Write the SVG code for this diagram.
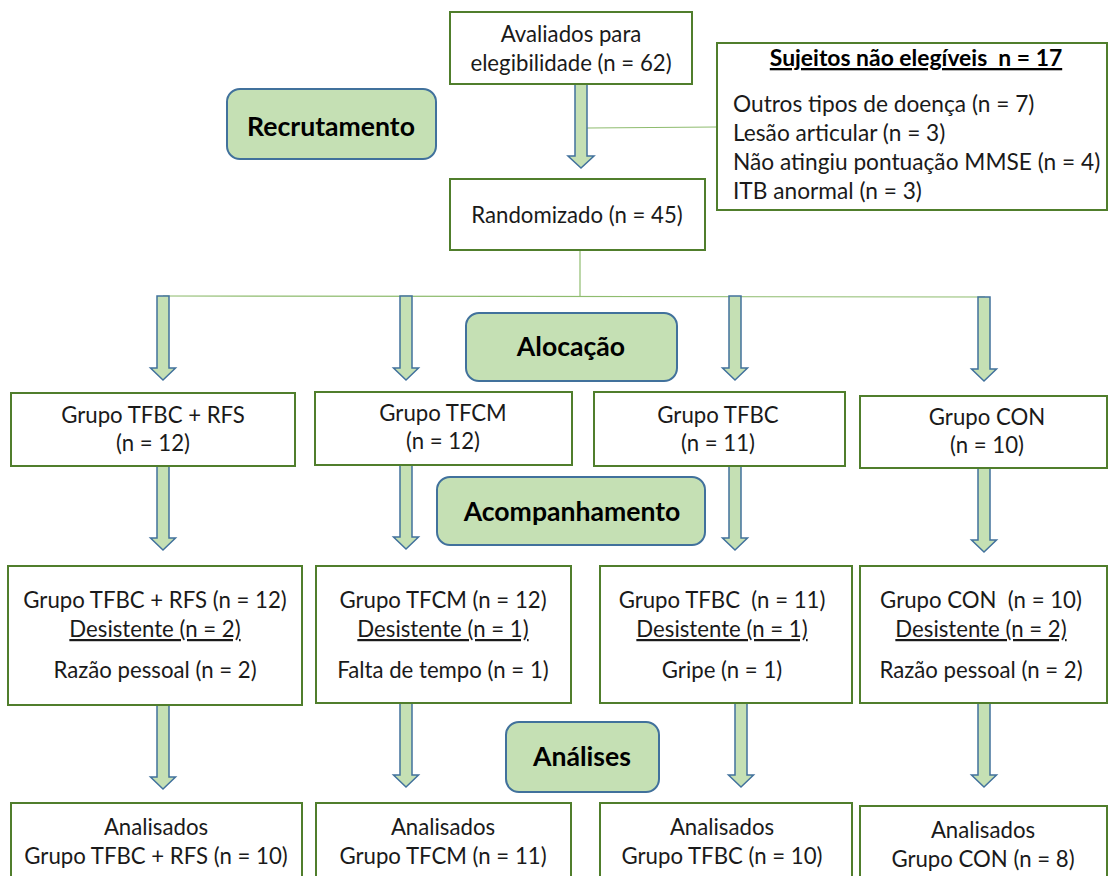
<svg xmlns="http://www.w3.org/2000/svg" width="1108" height="876" viewBox="0 0 1108 876">
  <defs>
    <style>
      .box { fill: #ffffff; stroke: #507e2c; stroke-width: 2; }
      .tag { fill: #c5e0b4; stroke: #41719c; stroke-width: 2; }
      .arrow { fill: #c5e0b4; stroke: #41719c; stroke-width: 1.5; stroke-linejoin: miter; }
      .link { fill: none; stroke: #8fbc6f; stroke-width: 1.2; }
      text { font-family: Lato, "Liberation Sans", sans-serif; font-size: 22.2px; fill: #1a1a1a; white-space: pre; }
      .c { text-anchor: middle; }
      .b { font-weight: bold; font-size: 26.6px; fill: #000; }
      .u { text-decoration: underline; text-decoration-skip-ink: none; }
      .list { font-size: 22.7px; }
    </style>
    <!-- block arrow pointing down, origin at shaft top centre, length 84 -->
    <path id="dn84" d="M-6,0 H6 V72 H12.5 L0,84 L-12.5,72 H-6 Z"/>
  </defs>

  <!-- connector lines -->
  <g id="connectors">
    <path class="link" d="M587,128 L717,127"/>
    <path class="link" d="M580,250 V296"/>
    <path class="link" d="M163,296 L985,297"/>
    <!-- recruitment arrow -->
    <path class="arrow" d="M575,84 H587 V156 H594 L581,168 L568,156 H575 Z"/>
    <!-- allocation arrows -->
    <use href="#dn84" class="arrow" x="163" y="296"/>
    <use href="#dn84" class="arrow" x="406" y="296"/>
    <use href="#dn84" class="arrow" x="735" y="296"/>
    <use href="#dn84" class="arrow" x="984" y="297"/>
    <!-- follow-up arrows -->
    <use href="#dn84" class="arrow" x="163" y="466"/>
    <use href="#dn84" class="arrow" x="406" y="465"/>
    <use href="#dn84" class="arrow" x="735" y="466"/>
    <use href="#dn84" class="arrow" x="984" y="468"/>
    <!-- analysis arrows -->
    <use href="#dn84" class="arrow" x="163" y="705"/>
    <use href="#dn84" class="arrow" x="406" y="703"/>
    <use href="#dn84" class="arrow" x="741" y="703"/>
    <use href="#dn84" class="arrow" x="984" y="703"/>
  </g>

  <!-- stage labels -->
  <g id="tag-recrutamento">
    <rect class="tag" x="227" y="89" width="209" height="70" rx="13"/>
    <text class="c b" x="331" y="136">Recrutamento</text>
  </g>
  <g id="tag-alocacao">
    <rect class="tag" x="466" y="313" width="211" height="68" rx="13"/>
    <text class="c b" x="571" y="356">Alocação</text>
  </g>
  <g id="tag-acompanhamento">
    <rect class="tag" x="437" y="477" width="268" height="68" rx="13"/>
    <text class="c b" x="572" y="521">Acompanhamento</text>
  </g>
  <g id="tag-analises">
    <rect class="tag" x="506" y="722" width="153" height="70" rx="13"/>
    <text class="c b" x="582" y="766">Análises</text>
  </g>

  <!-- enrolment -->
  <g id="avaliados">
    <rect class="box" x="450" y="12" width="242" height="72"/>
    <text class="c" x="571" y="42">Avaliados para</text>
    <text class="c" x="571" y="71">elegibilidade (n = 62)</text>
  </g>
  <g id="nao-elegiveis">
    <rect class="box" x="717" y="43" width="390" height="167"/>
    <text class="c b u" x="916" y="66" style="font-size:22.9px">Sujeitos não elegíveis  n = 17</text>
    <text class="list" x="733" y="112">Outros tipos de doença (n = 7)</text>
    <text class="list" x="733" y="141">Lesão articular (n = 3)</text>
    <text class="list" x="733" y="170">Não atingiu pontuação MMSE (n = 4)</text>
    <text class="list" x="733" y="199">ITB anormal (n = 3)</text>
  </g>
  <g id="randomizado">
    <rect class="box" x="450" y="179" width="255" height="71"/>
    <text class="c" x="577" y="223">Randomizado (n = 45)</text>
  </g>

  <!-- allocation -->
  <g id="aloc-tfbc-rfs">
    <rect class="box" x="11" y="393" width="284" height="73"/>
    <text class="c" x="153" y="423">Grupo TFBC + RFS</text>
    <text class="c" x="153" y="451">(n = 12)</text>
  </g>
  <g id="aloc-tfcm">
    <rect class="box" x="315" y="392" width="257" height="73"/>
    <text class="c" x="443" y="421">Grupo TFCM</text>
    <text class="c" x="443" y="449">(n = 12)</text>
  </g>
  <g id="aloc-tfbc">
    <rect class="box" x="594" y="392" width="251" height="74"/>
    <text class="c" x="718" y="423">Grupo TFBC</text>
    <text class="c" x="718" y="451">(n = 11)</text>
  </g>
  <g id="aloc-con">
    <rect class="box" x="860" y="396" width="247" height="72"/>
    <text class="c" x="987" y="425">Grupo CON</text>
    <text class="c" x="987" y="453">(n = 10)</text>
  </g>

  <!-- follow-up -->
  <g id="seg-tfbc-rfs">
    <rect class="box" x="8" y="566" width="294" height="139"/>
    <text class="c" x="155" y="608">Grupo TFBC + RFS (n = 12)</text>
    <text class="c u" x="155" y="637">Desistente (n = 2)</text>
    <text class="c" x="155" y="678">Razão pessoal (n = 2)</text>
  </g>
  <g id="seg-tfcm">
    <rect class="box" x="316" y="566" width="255" height="137"/>
    <text class="c" x="443" y="608">Grupo TFCM (n = 12)</text>
    <text class="c u" x="443" y="637">Desistente (n = 1)</text>
    <text class="c" x="443" y="678">Falta de tempo (n = 1)</text>
  </g>
  <g id="seg-tfbc">
    <rect class="box" x="600" y="566" width="252" height="137"/>
    <text class="c" x="722" y="608">Grupo TFBC  (n = 11)</text>
    <text class="c u" x="722" y="637">Desistente (n = 1)</text>
    <text class="c" x="722" y="678">Gripe (n = 1)</text>
  </g>
  <g id="seg-con">
    <rect class="box" x="860" y="566" width="247" height="137"/>
    <text class="c" x="981" y="608">Grupo CON  (n = 10)</text>
    <text class="c u" x="981" y="637">Desistente (n = 2)</text>
    <text class="c" x="981" y="678">Razão pessoal (n = 2)</text>
  </g>

  <!-- analysis -->
  <g id="ana-tfbc-rfs">
    <rect class="box" x="11" y="803" width="291" height="80"/>
    <text class="c" x="156" y="835">Analisados</text>
    <text class="c" x="156" y="864">Grupo TFBC + RFS (n = 10)</text>
  </g>
  <g id="ana-tfcm">
    <rect class="box" x="316" y="803" width="255" height="80"/>
    <text class="c" x="443" y="835">Analisados</text>
    <text class="c" x="443" y="864">Grupo TFCM (n = 11)</text>
  </g>
  <g id="ana-tfbc">
    <rect class="box" x="600" y="803" width="252" height="80"/>
    <text class="c" x="722" y="835">Analisados</text>
    <text class="c" x="722" y="864">Grupo TFBC (n = 10)</text>
  </g>
  <g id="ana-con">
    <rect class="box" x="860" y="806" width="247" height="80"/>
    <text class="c" x="983" y="838">Analisados</text>
    <text class="c" x="983" y="867">Grupo CON (n = 8)</text>
  </g>
</svg>
